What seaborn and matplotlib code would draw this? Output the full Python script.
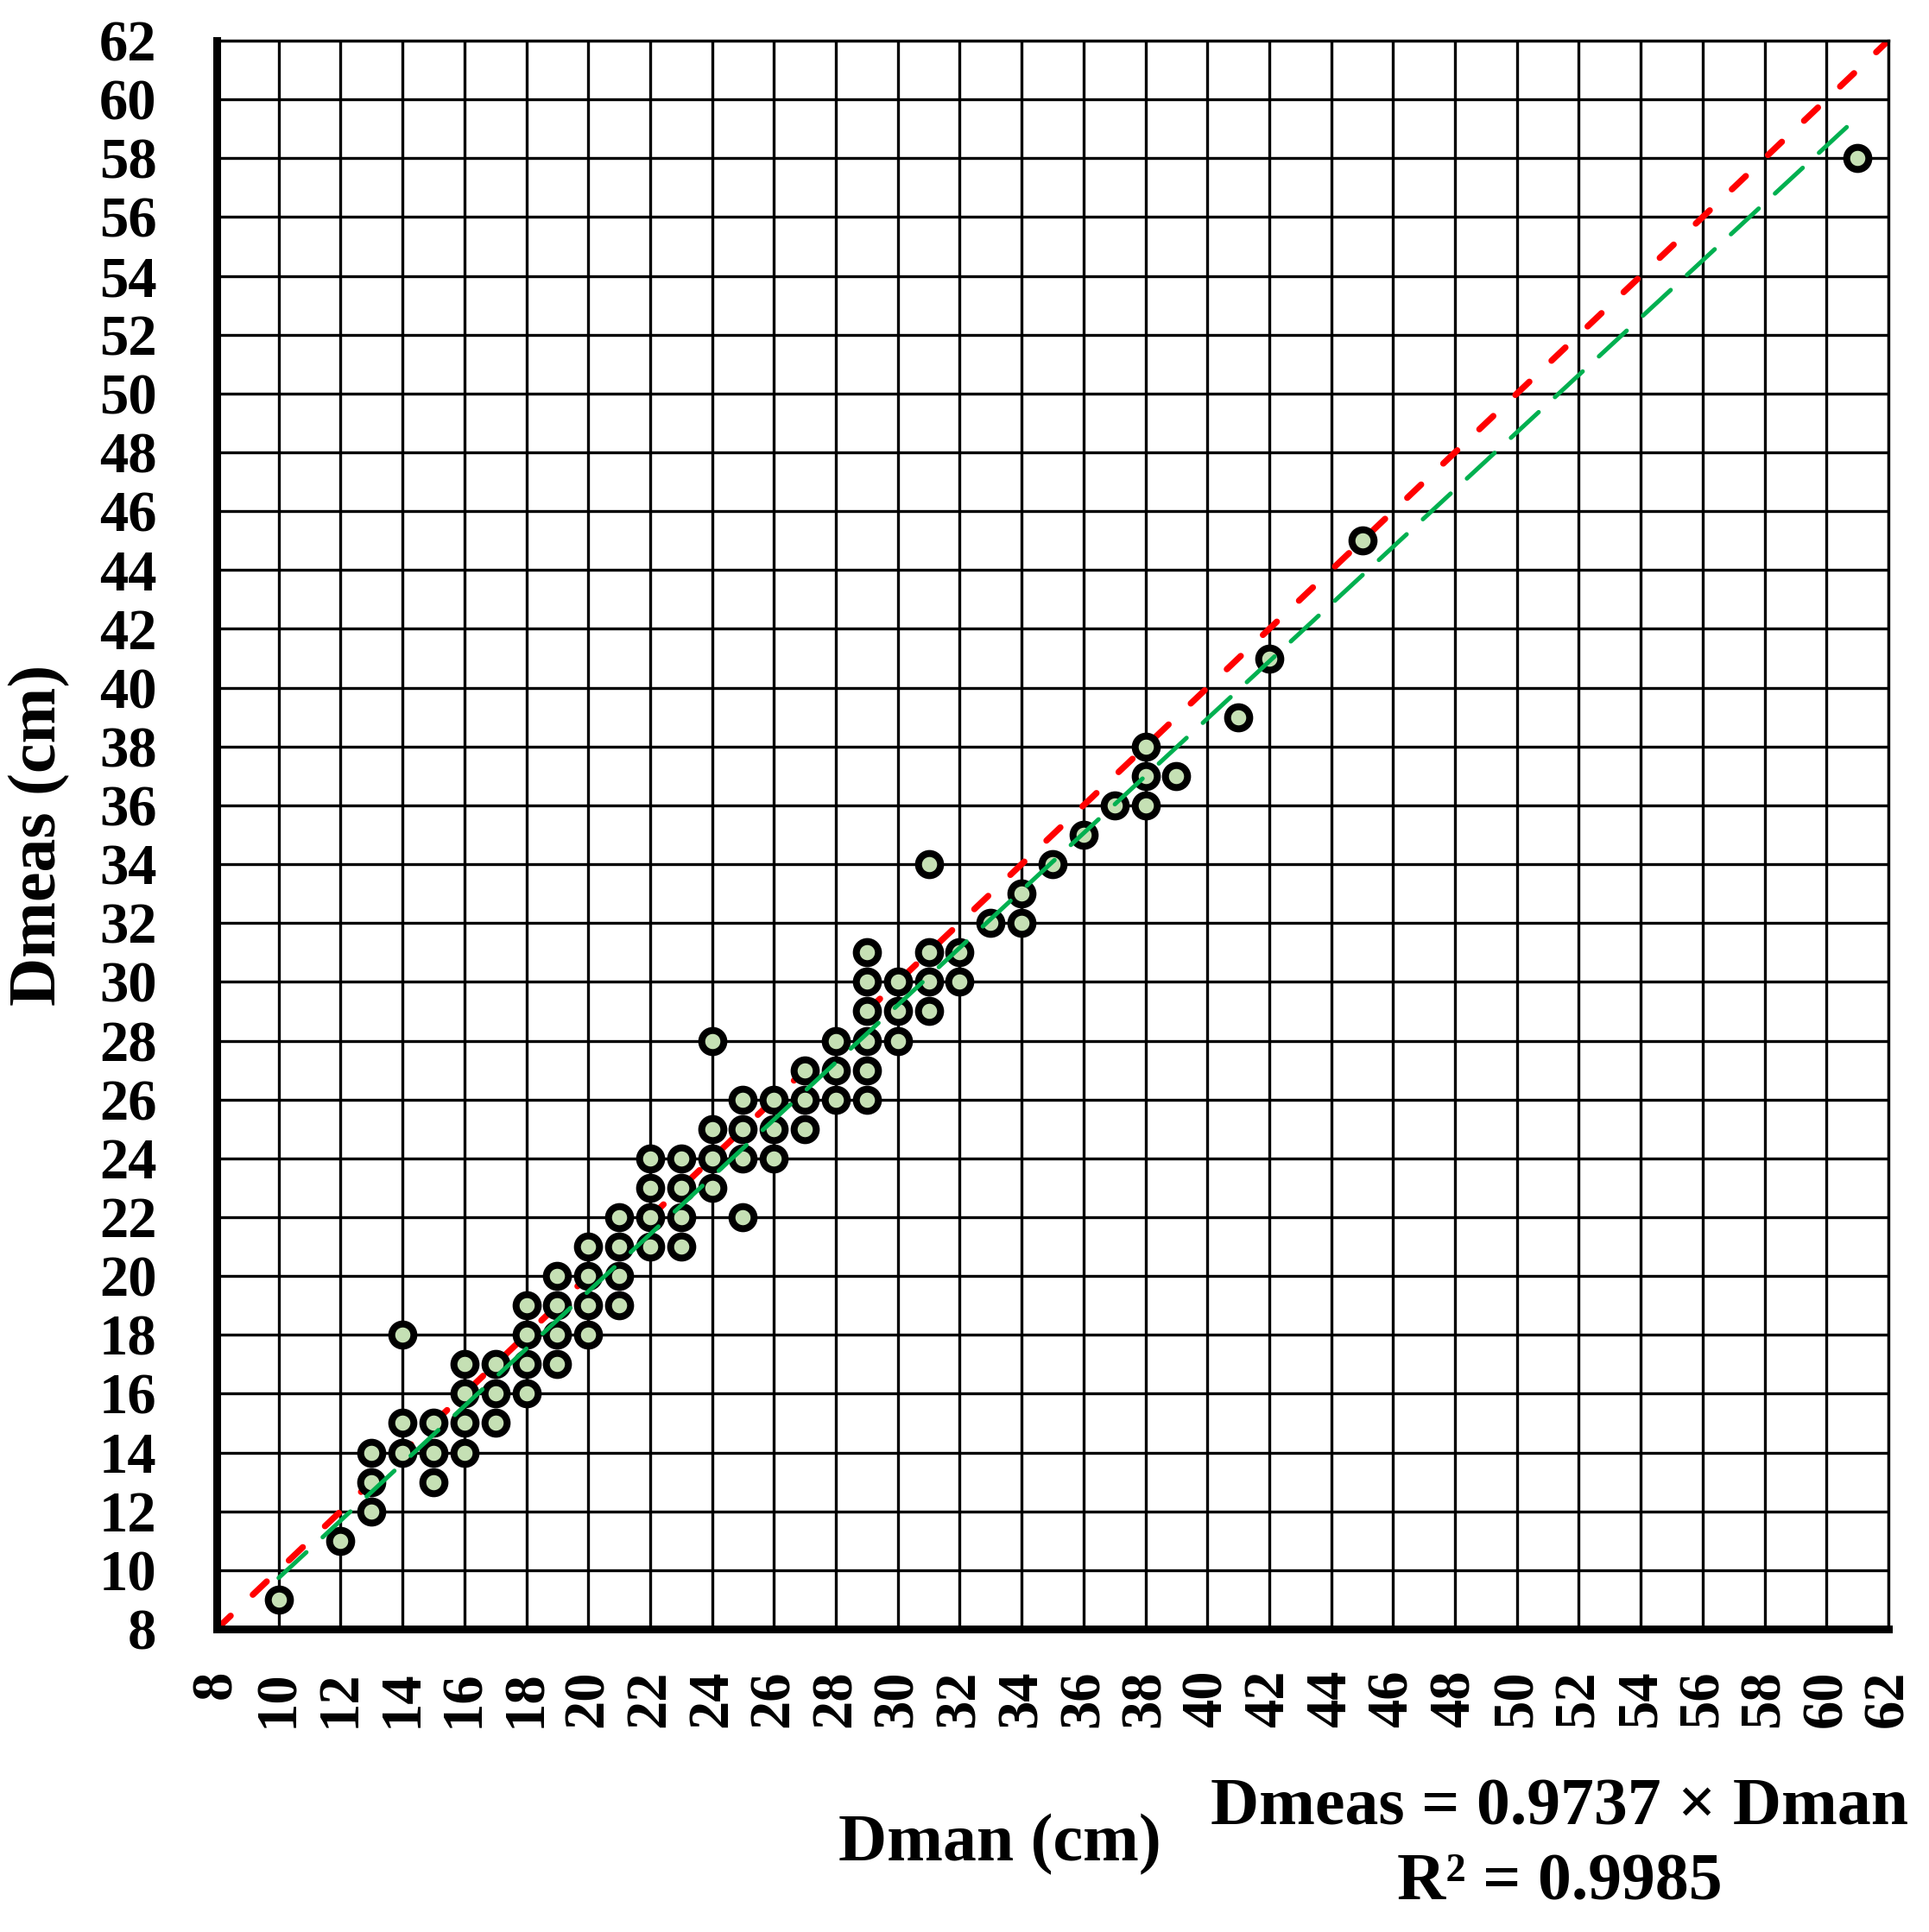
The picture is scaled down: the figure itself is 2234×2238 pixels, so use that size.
import numpy as np
import pandas as pd
import matplotlib
matplotlib.use('Agg')
import matplotlib.pyplot as plt
import seaborn as sns

# Dman (manual, cm) vs Dmeas (measured, cm)
dman = [10, 12, 13, 13, 13, 14, 14, 14, 15, 15, 15, 16, 16, 16, 16,
        17, 17, 17, 18, 18, 18, 18, 19, 19, 19, 19, 20, 20, 20, 20,
        21, 21, 21, 21, 22, 22, 22, 22, 23, 23, 23, 23, 24, 24, 24, 24,
        25, 25, 25, 25, 26, 26, 26, 27, 27, 27, 28, 28, 28,
        29, 29, 29, 29, 29, 29, 30, 30, 30, 31, 31, 31, 31, 32, 32,
        33, 34, 34, 35, 36, 37, 38, 38, 38, 39, 41, 42, 45, 61]
dmeas = [9, 11, 12, 13, 14, 14, 15, 18, 13, 14, 15, 14, 15, 16, 17,
         15, 16, 17, 16, 17, 18, 19, 17, 18, 19, 20, 18, 19, 20, 21,
         19, 20, 21, 22, 21, 22, 23, 24, 21, 22, 23, 24, 23, 24, 25, 28,
         22, 24, 25, 26, 24, 25, 26, 25, 26, 27, 26, 27, 28,
         26, 27, 28, 29, 30, 31, 28, 29, 30, 29, 30, 31, 34, 30, 31,
         32, 32, 33, 34, 35, 36, 36, 37, 38, 37, 39, 41, 45, 58]

slope = 0.9737
r2 = 0.9985
axis_min, axis_max = 8, 62
ticks = list(range(8, 63, 2))

df = pd.DataFrame({'Dman': dman, 'Dmeas': dmeas})
one_to_one = pd.DataFrame({'x': [axis_min, axis_max], 'y': [axis_min, axis_max]})
fit_x = [min(dman), max(dman)]
fit = pd.DataFrame({'x': fit_x, 'y': [slope * v for v in fit_x]})

sns.set_style('white')
plt.rcParams['font.family'] = ['Liberation Serif', 'DejaVu Serif']
plt.rcParams['font.weight'] = 'bold'
plt.rcParams['text.color'] = 'black'
plt.rcParams['axes.labelcolor'] = 'black'
plt.rcParams['xtick.color'] = 'black'
plt.rcParams['ytick.color'] = 'black'
plt.rcParams['lines.scale_dashes'] = False

fig = plt.figure(figsize=(22.34, 22.38), dpi=100)
ax = fig.add_axes([251 / 2234, 1 - 1887 / 2238, (2187 - 251) / 2234, (1887 - 47) / 2238])

# 1:1 line under the points
sns.lineplot(data=one_to_one, x='x', y='y', ax=ax, color='#FF0000', linewidth=5.2,
             linestyle=(0, (16, 25.5)), dash_capstyle='round', zorder=2)
sns.scatterplot(data=df, x='Dman', y='Dmeas', ax=ax, s=340, color='#C5E0B4',
                edgecolor='black', linewidth=5.8, zorder=3)
# fitted line over the points
sns.lineplot(data=fit, x='x', y='y', ax=ax, color='#00B050', linewidth=3.6,
             linestyle=(0, (31.5, 18.5)), dash_capstyle='round', zorder=4)

ax.set_xlim(axis_min, axis_max)
ax.set_ylim(axis_min, axis_max)
ax.set_xticks(ticks)
ax.set_yticks(ticks)
ax.set_axisbelow(True)
ax.grid(True, color='black', linewidth=2.4)
for side in ['left', 'bottom']:
    ax.spines[side].set_linewidth(6.5)
    ax.spines[side].set_color('black')
for side in ['top', 'right']:
    ax.spines[side].set_linewidth(2.4)
    ax.spines[side].set_color('black')

ax.tick_params(axis='both', direction='out', length=17, width=6, color='black',
               labelsize=48, labelcolor='black')
ax.tick_params(axis='y', pad=33)
ax.tick_params(axis='x', pad=17, labelrotation=90)
for lab in ax.get_xticklabels() + ax.get_yticklabels():
    lab.set_fontweight('bold')

ax.set_xlabel('')
ax.set_ylabel('')
fig.text(1158 / 2234, 1 - 2137 / 2238, 'Dman (cm)', ha='center', va='center',
         fontsize=56, fontweight='bold', color='black')
fig.text(46 / 2234, 1 - 967 / 2238, 'Dmeas (cm)', ha='center', va='center',
         rotation=90, fontsize=56, fontweight='bold', color='black')
fig.text(1806 / 2234, 1 - 2095 / 2238, f'Dmeas = {slope} × Dman', ha='center', va='center',
         fontsize=56, fontweight='bold', color='black')
fig.text(1806 / 2234, 1 - 2181 / 2238, f'R² = {r2}', ha='center', va='center',
         fontsize=56, fontweight='bold', color='black')

fig.savefig('out.png', dpi=100, facecolor='white')
